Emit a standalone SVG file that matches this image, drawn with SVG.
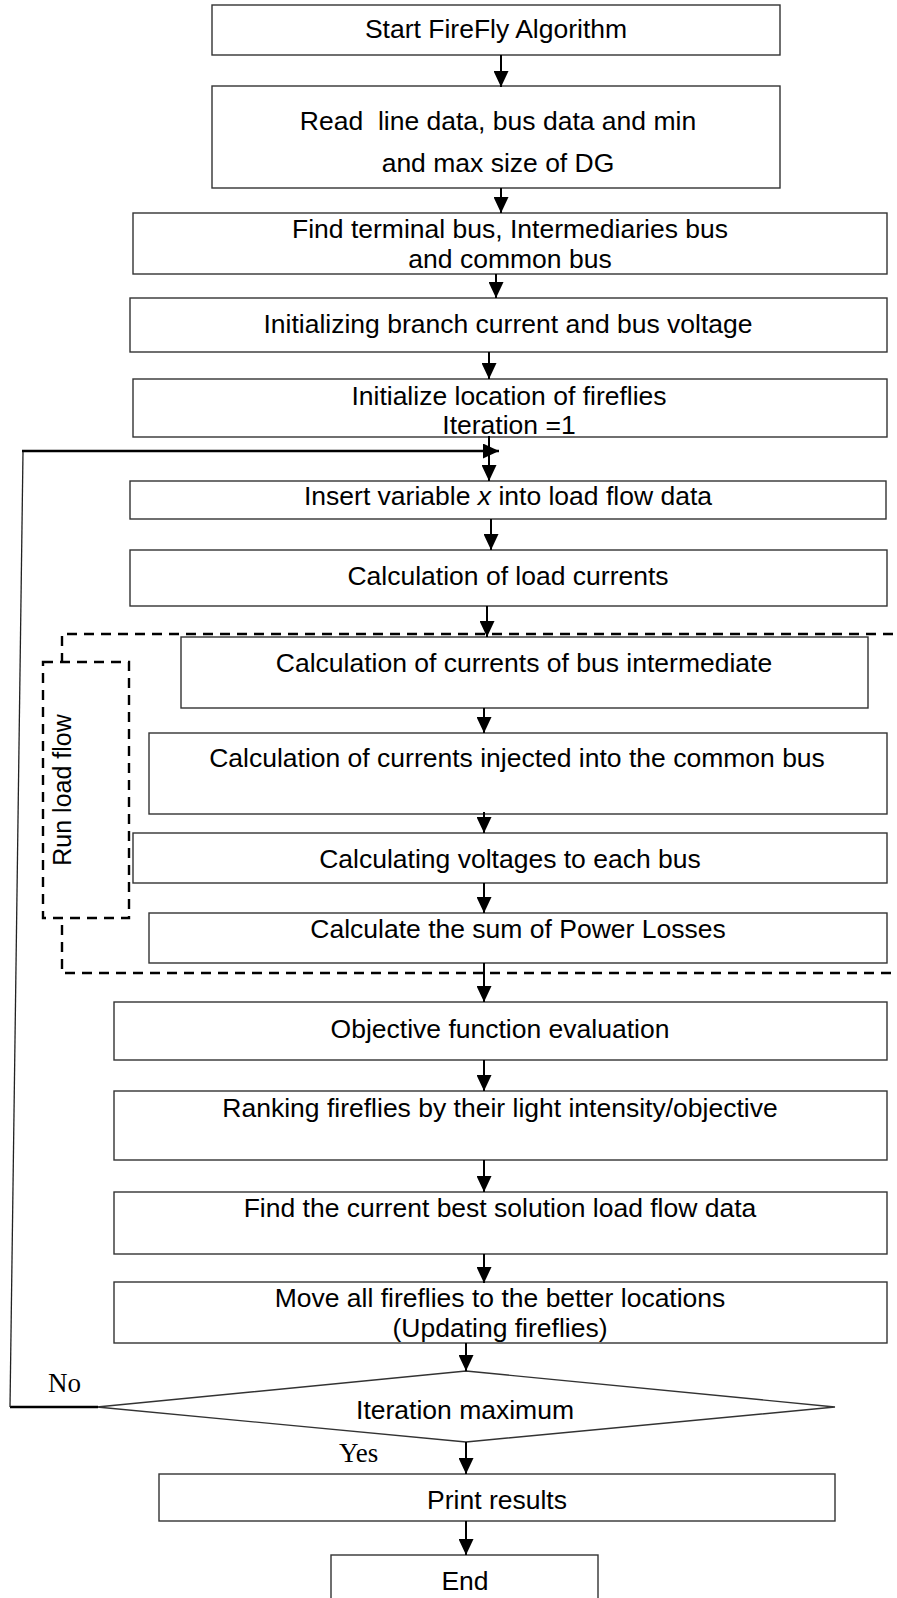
<svg xmlns="http://www.w3.org/2000/svg" width="897" height="1598" viewBox="0 0 897 1598">
<style>
.box{fill:#fff;stroke:#333;stroke-width:1.4}
.t{font-family:"Liberation Sans",Arial,sans-serif;font-size:26.5px;fill:#000;text-anchor:middle}
.tr{font-family:"Liberation Serif","Times New Roman",serif;font-size:27px;fill:#000}
.ln{stroke:#000;stroke-width:2;fill:none}
.thin{stroke:#222;stroke-width:1.3;fill:none}
.thick{stroke:#000;stroke-width:2.6;fill:none}
.dash{fill:none;stroke:#000;stroke-width:2.4;stroke-dasharray:10 7}
.dashw{fill:#fff;stroke:#000;stroke-width:2.4;stroke-dasharray:10 7}
</style>
<defs>
<marker id="ah" viewBox="0 0 16 15" refX="16" refY="7.5" markerWidth="16" markerHeight="15" markerUnits="userSpaceOnUse" orient="auto">
<path d="M0,0 L16,7.5 L0,15 Z" fill="#000"/>
</marker>
</defs>

<g id="loadflow-frame">
<path class="dash" d="M910,634 H62 V973 H910"/>
</g>

<g id="run-load-flow">
<rect class="dashw" x="43" y="662" width="86" height="256"/>
<text class="t" style="font-size:25px" transform="translate(71,790) rotate(-90)">Run load flow</text>
</g>

<g id="n1"><rect class="box" x="212" y="5" width="568" height="50"/><text class="t" x="496" y="38">Start FireFly Algorithm</text></g>
<g id="n2"><rect class="box" x="212" y="86" width="568" height="102"/><text class="t" x="498" y="130" xml:space="preserve">Read  line data, bus data and min</text><text class="t" x="498" y="172">and max size of DG</text></g>
<g id="n3"><rect class="box" x="133" y="213" width="754" height="61"/><text class="t" x="510" y="238">Find terminal bus, Intermediaries bus</text><text class="t" x="510" y="268">and common bus</text></g>
<g id="n4"><rect class="box" x="130" y="298" width="757" height="54"/><text class="t" x="508" y="333">Initializing branch current and bus voltage</text></g>
<g id="n5"><rect class="box" x="133" y="379" width="754" height="58"/><text class="t" x="509" y="405">Initialize location of fireflies</text><text class="t" x="509" y="434">Iteration =1</text></g>
<g id="n6"><rect class="box" x="130" y="481" width="756" height="38"/><text class="t" x="508" y="505">Insert variable <tspan font-style="italic">x</tspan> into load flow data</text></g>
<g id="n7"><rect class="box" x="130" y="550" width="757" height="56"/><text class="t" x="508" y="585">Calculation of load currents</text></g>
<g id="n8"><rect class="box" x="181" y="637" width="687" height="71"/><text class="t" x="524" y="672">Calculation of currents of bus intermediate</text></g>
<g id="n9"><rect class="box" x="149" y="733" width="738" height="81"/><text class="t" x="517" y="767">Calculation of currents injected into the common bus</text></g>
<g id="n10"><rect class="box" x="133" y="833" width="754" height="50"/><text class="t" x="510" y="868">Calculating voltages to each bus</text></g>
<g id="n11"><rect class="box" x="149" y="913" width="738" height="50"/><text class="t" x="518" y="938">Calculate the sum of Power Losses</text></g>
<g id="n12"><rect class="box" x="114" y="1002" width="773" height="58"/><text class="t" x="500" y="1038">Objective function evaluation</text></g>
<g id="n13"><rect class="box" x="114" y="1091" width="773" height="69"/><text class="t" x="500" y="1117">Ranking fireflies by their light intensity/objective</text></g>
<g id="n14"><rect class="box" x="114" y="1192" width="773" height="62"/><text class="t" x="500" y="1217">Find the current best solution load flow data</text></g>
<g id="n15"><rect class="box" x="114" y="1282" width="773" height="61"/><text class="t" x="500" y="1307">Move all fireflies to the better locations</text><text class="t" x="500" y="1337">(Updating fireflies)</text></g>
<g id="n16"><path class="box" d="M466,1371 L835,1407 L466,1442 L97,1407 Z"/><text class="t" x="465" y="1419">Iteration maximum</text></g>
<g id="n17"><rect class="box" x="159" y="1474" width="676" height="47"/><text class="t" x="497" y="1509">Print results</text></g>
<g id="n18"><rect class="box" x="331" y="1555" width="267" height="60"/><text class="t" x="465" y="1590">End</text></g>

<g id="connectors">
<line class="ln" x1="501" y1="55" x2="501" y2="87" marker-end="url(#ah)"/>
<line class="ln" x1="501" y1="188" x2="501" y2="213" marker-end="url(#ah)"/>
<line class="ln" x1="496" y1="274" x2="496" y2="298" marker-end="url(#ah)"/>
<line class="ln" x1="489" y1="352" x2="489" y2="379" marker-end="url(#ah)"/>
<line class="ln" x1="489" y1="436" x2="489" y2="481" marker-end="url(#ah)"/>
<line class="ln" x1="491" y1="519" x2="491" y2="550" marker-end="url(#ah)"/>
<line class="ln" x1="487" y1="606" x2="487" y2="637" marker-end="url(#ah)"/>
<line class="ln" x1="484" y1="708" x2="484" y2="733" marker-end="url(#ah)"/>
<line class="ln" x1="484" y1="812" x2="484" y2="833" marker-end="url(#ah)"/>
<line class="ln" x1="484" y1="883" x2="484" y2="913" marker-end="url(#ah)"/>
<line class="ln" x1="484" y1="963" x2="484" y2="1002" marker-end="url(#ah)"/>
<line class="ln" x1="484" y1="1060" x2="484" y2="1091" marker-end="url(#ah)"/>
<line class="ln" x1="484" y1="1160" x2="484" y2="1192" marker-end="url(#ah)"/>
<line class="ln" x1="484" y1="1254" x2="484" y2="1283" marker-end="url(#ah)"/>
<line class="ln" x1="466" y1="1343" x2="466" y2="1371" marker-end="url(#ah)"/>
<line class="ln" x1="466" y1="1442" x2="466" y2="1474" marker-end="url(#ah)"/>
<line class="ln" x1="466" y1="1521" x2="466" y2="1555" marker-end="url(#ah)"/>
<line class="thick" x1="98" y1="1407" x2="10" y2="1407"/>
<line class="thin" x1="10" y1="1407" x2="23" y2="452"/>
<line class="thick" x1="22" y1="451" x2="499" y2="451" marker-end="url(#ah)"/>
</g>

<text class="tr" x="48" y="1392">No</text>
<text class="tr" x="339" y="1462">Yes</text>
</svg>
